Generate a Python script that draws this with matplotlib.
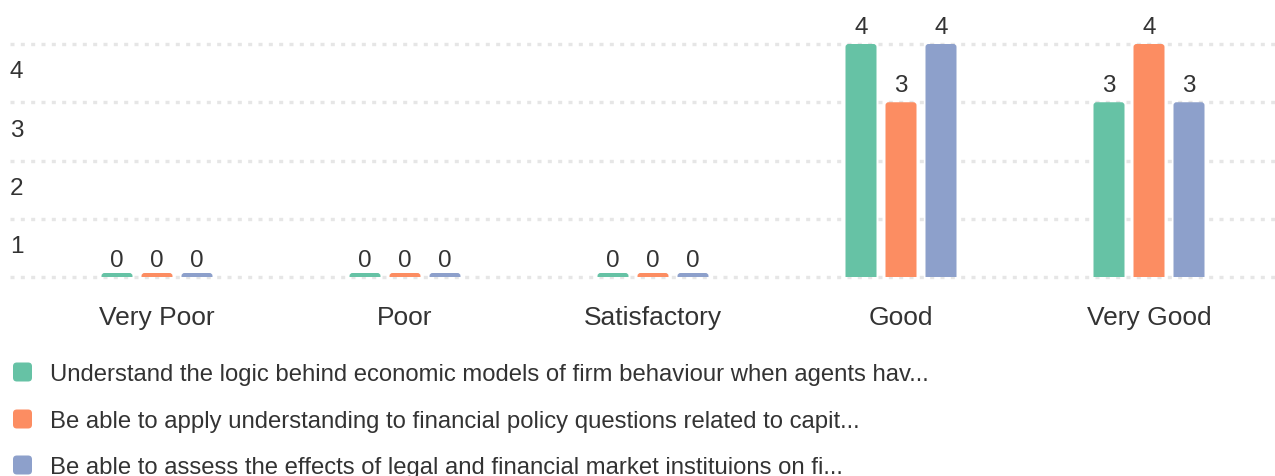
import matplotlib
matplotlib.use("Agg")
import matplotlib.pyplot as plt
from matplotlib.patches import FancyBboxPatch, Rectangle
import numpy as np

plt.rcParams['font.family'] = ['Liberation Sans', 'DejaVu Sans']

categories = ["Very Poor", "Poor", "Satisfactory", "Good", "Very Good"]
series_names = [
    "Understand the logic behind economic models of firm behaviour when agents hav...",
    "Be able to apply understanding to financial policy questions related to capit...",
    "Be able to assess the effects of legal and financial market instituions on fi...",
]
series_values = [
    [0, 0, 0, 4, 3],
    [0, 0, 0, 3, 4],
    [0, 0, 0, 4, 3],
]
y_ticks = [1, 2, 3, 4]
colors = ["#66c2a5", "#fc8d62", "#8da0cb"]
text_color = "#333333"

W, H = 1275, 477
fig = plt.figure(figsize=(W / 100, H / 100), dpi=100)

# axes placed in pixel terms
ax_left, ax_right = 10, 1275
ax_top, ax_bottom = 10, 290
ax = fig.add_axes([ax_left / W, 1 - ax_bottom / H,
                   (ax_right - ax_left) / W, (ax_bottom - ax_top) / H])

px_per_x = 248.0
px_per_y = 58.25
x0 = (ax_left - 157) / px_per_x
ax.set_xlim(x0, x0 + (ax_right - ax_left) / px_per_x)
ax.set_ylim(-(ax_bottom - 278) / px_per_y, (278 - ax_top) / px_per_y)

for s in ax.spines.values():
    s.set_visible(False)
ax.tick_params(left=False, bottom=False, labelleft=False)

# dotted gridlines
for v in [0] + y_ticks:
    ax.axhline(v, color="#e6e6e6", lw=2.4, dashes=(1.2, 1.9), zorder=0)

for v in y_ticks:
    ax.annotate(str(v), xy=(0, v), xycoords=("axes fraction", "data"),
                xytext=(0, -24), textcoords="offset points",
                ha="left", va="baseline", fontsize=17.5, color=text_color)

x = np.arange(len(categories))
bar_w = 31 / px_per_x
step = 40 / px_per_x
r = 3 / px_per_x
aspect = px_per_x / px_per_y
stub = 4 / px_per_y

clip = Rectangle((x0 - 1, 0), 20, 20, transform=ax.transData)

for i, (vals, col) in enumerate(zip(series_values, colors)):
    xs = x + (i - 1) * step
    for xi, v in zip(xs, vals):
        h = max(v, stub)
        p = FancyBboxPatch((xi - bar_w / 2, -0.2), bar_w, h + 0.2,
                           boxstyle=f"round,pad=0,rounding_size={r}",
                           mutation_aspect=aspect, fc=col, ec="none", zorder=2)
        ax.add_patch(p)
        p.set_clip_path(clip)
        ax.annotate(str(v), xy=(xi, v), xytext=(0, 8), textcoords="offset points",
                    ha="center", va="baseline", fontsize=17.5, color=text_color)

ax.set_xticks(x)
ax.set_xticklabels(categories, fontsize=19, color=text_color)
ax.tick_params(axis="x", pad=8, labelbottom=True)

# legend
rows = [373, 420, 466]
for name, col, yc in zip(series_names, colors, rows):
    sq = FancyBboxPatch((13 / W, 1 - (yc + 9.5) / H), 19 / W, 19 / H,
                        boxstyle="round,pad=0,rounding_size=0.003",
                        mutation_aspect=W / H, transform=fig.transFigure,
                        fc=col, ec="none")
    fig.patches.append(sq)
    fig.text(50 / W, 1 - (yc + 8) / H, name, fontsize=17.2, color=text_color,
             ha="left", va="baseline")

fig.savefig("out.png", dpi=100)
